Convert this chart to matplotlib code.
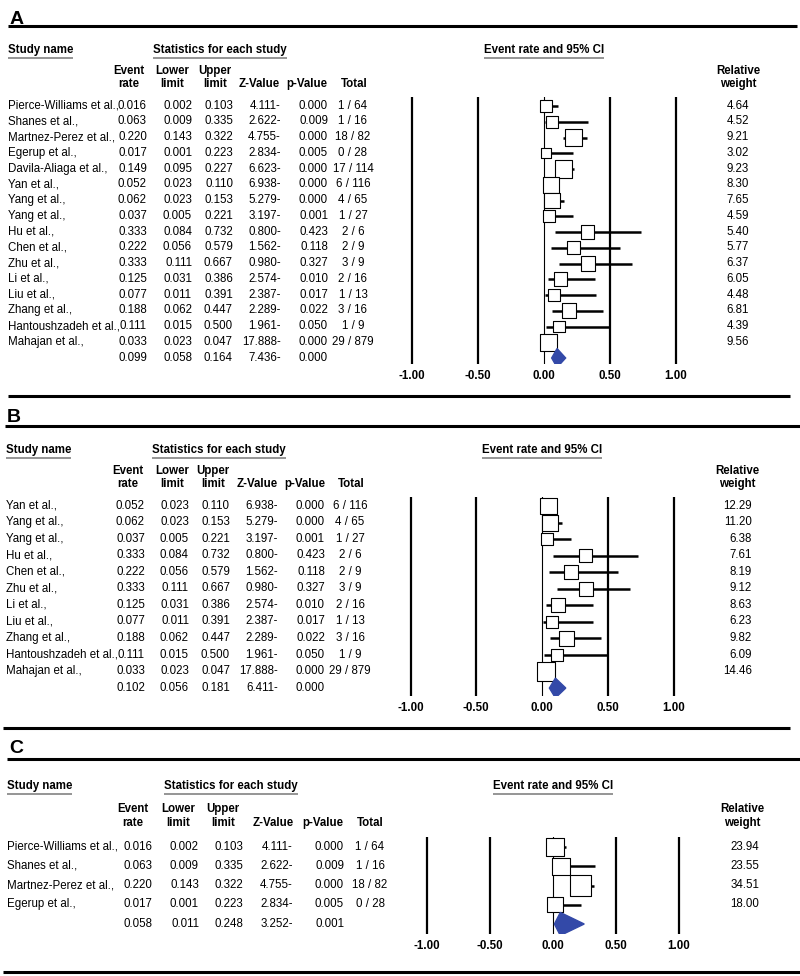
import matplotlib
matplotlib.use("Agg")
import matplotlib.pyplot as plt
import numpy as np

plt.rcParams['font.family'] = ['Liberation Sans', 'DejaVu Sans']

#%% DATA
study_names = ["Pierce-Williams et al.,", "Shanes et al.,", "Martnez-Perez et al.,",
               "Egerup et al.,", "Davila-Aliaga et al.,", "Yan et al.,", "Yang et al.,",
               "Yang et al.,", "Hu et al.,", "Chen et al.,", "Zhu et al.,", "Li et al.,",
               "Liu et al.,", "Zhang et al.,", "Hantoushzadeh et al.,", "Mahajan et al.,"]
event_rate = [0.016, 0.063, 0.220, 0.017, 0.149, 0.052, 0.062, 0.037,
              0.333, 0.222, 0.333, 0.125, 0.077, 0.188, 0.111, 0.033]
lower_limit = [0.002, 0.009, 0.143, 0.001, 0.095, 0.023, 0.023, 0.005,
               0.084, 0.056, 0.111, 0.031, 0.011, 0.062, 0.015, 0.023]
upper_limit = [0.103, 0.335, 0.322, 0.223, 0.227, 0.110, 0.153, 0.221,
               0.732, 0.579, 0.667, 0.386, 0.391, 0.447, 0.500, 0.047]
z_value = [4.111, 2.622, 4.755, 2.834, 6.623, 6.938, 5.279, 3.197,
           0.800, 1.562, 0.980, 2.574, 2.387, 2.289, 1.961, 17.888]
p_value = [0.000, 0.009, 0.000, 0.005, 0.000, 0.000, 0.000, 0.001,
           0.423, 0.118, 0.327, 0.010, 0.017, 0.022, 0.050, 0.000]
totals = ["1 / 64", "1 / 16", "18 / 82", "0 / 28", "17 / 114", "6 / 116", "4 / 65",
          "1 / 27", "2 / 6", "2 / 9", "3 / 9", "2 / 16", "1 / 13", "3 / 16", "1 / 9",
          "29 / 879"]

# which studies go in each panel
studies_a = list(range(0, 16))
studies_b = list(range(5, 16))
studies_c = list(range(0, 4))

weights_a = [4.64, 4.52, 9.21, 3.02, 9.23, 8.30, 7.65, 4.59,
             5.40, 5.77, 6.37, 6.05, 4.48, 6.81, 4.39, 9.56]
weights_b = [12.29, 11.20, 6.38, 7.61, 8.19, 9.12, 8.63, 6.23, 9.82, 6.09, 14.46]
weights_c = [23.94, 23.55, 34.51, 18.00]

# pooled: event rate, lower, upper, z, p
summary_a = [0.099, 0.058, 0.164, 7.436, 0.000]
summary_b = [0.102, 0.056, 0.181, 6.411, 0.000]
summary_c = [0.058, 0.011, 0.248, 3.252, 0.001]

tick_vals = [-1.0, -0.5, 0.0, 0.5, 1.0]

#%% LAYOUT (pixels, y down)
W, H = 800, 976
FS = 8.3
DIAMOND = '#3349a8'

LAYOUT = {
    'A': dict(letter_y=18, rule_top=26, rule_bot=396, top_x=(8, 797), bot_x=(8, 790),
              title_y=50, hdr_y=(71, 84), row0=106, dy=15.75,
              cols=(8, 147, 192, 233, 281, 328, 353, 749),
              hdr_x=(129, 172, 215, 259, 307, 354, 738),
              stats_x=153, ci_x=544, zero=544, ppu=132, top=97, bot=364),
    'B': dict(letter_y=416, rule_top=426, rule_bot=728, top_x=(5, 800), bot_x=(3, 790),
              title_y=450, hdr_y=(471, 484), row0=506, dy=16.55,
              cols=(6, 145, 189, 230, 278, 325, 350, 752),
              hdr_x=(128, 172, 213, 257, 305, 351, 737),
              stats_x=152, ci_x=542, zero=542, ppu=131.5, top=497, bot=696),
    'C': dict(letter_y=747, rule_top=759, rule_bot=972, top_x=(7, 800), bot_x=(3, 800),
              title_y=786, hdr_y=(809, 823), row0=847, dy=19.25,
              cols=(7, 152, 199, 243, 293, 344, 370, 759),
              hdr_x=(133, 178, 223, 273, 323, 370, 742),
              stats_x=164, ci_x=553, zero=553, ppu=126, top=837, bot=934),
}

fig = plt.figure(figsize=(W / 100, H / 100), dpi=100)
canvas = fig.add_axes([0, 0, 1, 1])
canvas.set_xlim(0, W)
canvas.set_ylim(H, 0)
canvas.axis('off')

underlined = []


def txt(x, y, s, ha='left', bold=False, size=FS):
    # y is the visual middle of the digits/caps
    return canvas.text(x, y + 0.36 * size * 100 / 72 / 2 * 1.0 + 0.5, s, ha=ha, va='baseline',
                       fontsize=size, fontweight='bold' if bold else 'normal')


def forest(L, rates, lows, ups, weights, summ):
    n = len(rates)
    span = 1.08
    ax = fig.add_axes([(L['zero'] - span * L['ppu']) / W, 1 - L['bot'] / H,
                       2 * span * L['ppu'] / W, (L['bot'] - L['top']) / H])
    ax.set_xlim(-span, span)
    ax.set_ylim((L['bot'] - L['row0']) / L['dy'], (L['top'] - L['row0']) / L['dy'])
    ax.patch.set_visible(False)
    for s in ax.spines.values():
        s.set_visible(False)
    ax.set_yticks([])
    for t in tick_vals:
        ax.axvline(t, color='black', lw=0.8 if t == 0 else 1.6, zorder=1)
    y = np.arange(n)
    ax.hlines(y, lows, ups, color='black', lw=1.8, zorder=2)
    side = 1.1 * L['dy'] * np.sqrt(np.array(weights) / max(weights)) * 0.72
    ax.scatter(rates, y, s=side ** 2, marker='s', facecolor='white',
               edgecolor='black', linewidth=0.8, zorder=3)
    est, lo, hi = summ[:3]
    h = 0.6
    ax.fill([lo, est, hi, est], [n, n - h, n, n + h], color=DIAMOND, zorder=4)
    ax.set_xticks(tick_vals)
    ax.set_xticklabels([f"{t:.2f}" for t in tick_vals], fontweight='bold', fontsize=FS)
    ax.tick_params(axis='x', length=0, pad=4.5)


def panel(letter, idx, weights, summ):
    L = LAYOUT[letter]
    canvas.text(L['top_x'][0] + 2, L['letter_y'] + 6, letter, fontsize=14,
                fontweight='bold', va='baseline')
    canvas.plot(L['top_x'], [L['rule_top']] * 2, color='black', lw=2.2, solid_capstyle='butt')
    canvas.plot(L['bot_x'], [L['rule_bot']] * 2, color='black', lw=2.2, solid_capstyle='butt')

    cx = L['cols']
    hx = L['hdr_x']
    underlined.append((txt(cx[0], L['title_y'], "Study name", bold=True), L['title_y']))
    underlined.append((txt(L['stats_x'], L['title_y'], "Statistics for each study", bold=True),
                       L['title_y']))
    underlined.append((txt(L['ci_x'], L['title_y'], "Event rate and 95% CI", ha='center',
                           bold=True), L['title_y']))
    top_hdr = ["Event", "Lower", "Upper"]
    bot_hdr = ["rate", "limit", "limit", "Z-Value", "p-Value", "Total"]
    for x, s in zip(hx[:3], top_hdr):
        txt(x, L['hdr_y'][0], s, ha='center', bold=True)
    for x, s in zip(hx[:6], bot_hdr):
        txt(x, L['hdr_y'][1], s, ha='center', bold=True)
    txt(hx[6], L['hdr_y'][0], "Relative", ha='center', bold=True)
    txt(hx[6], L['hdr_y'][1], "weight", ha='center', bold=True)

    for r, i in enumerate(idx):
        y = L['row0'] + r * L['dy']
        txt(cx[0], y, study_names[i])
        txt(cx[1], y, f"{event_rate[i]:.3f}", ha='right')
        txt(cx[2], y, f"{lower_limit[i]:.3f}", ha='right')
        txt(cx[3], y, f"{upper_limit[i]:.3f}", ha='right')
        txt(cx[4], y, f"{z_value[i]:.3f}-", ha='right')
        txt(cx[5], y, f"{p_value[i]:.3f}", ha='right')
        txt(cx[6], y, totals[i], ha='center')
        txt(cx[7], y, f"{weights[r]:.2f}", ha='right')
    y = L['row0'] + len(idx) * L['dy']
    txt(cx[1], y, f"{summ[0]:.3f}", ha='right')
    txt(cx[2], y, f"{summ[1]:.3f}", ha='right')
    txt(cx[3], y, f"{summ[2]:.3f}", ha='right')
    txt(cx[4], y, f"{summ[3]:.3f}-", ha='right')
    txt(cx[5], y, f"{summ[4]:.3f}", ha='right')

    forest(L, [event_rate[i] for i in idx], [lower_limit[i] for i in idx],
           [upper_limit[i] for i in idx], weights, summ)


panel('A', studies_a, weights_a, summary_a)
panel('B', studies_b, weights_b, summary_b)
panel('C', studies_c, weights_c, summary_c)

# grey underlines under the bold titles
renderer = fig.canvas.get_renderer()
for t, y in underlined:
    bb = t.get_window_extent(renderer)
    canvas.plot([bb.x0, bb.x1], [y + 7.5] * 2, color='#8c8c8c', lw=1.3, solid_capstyle='butt')

fig.savefig('out.png', dpi=100)
